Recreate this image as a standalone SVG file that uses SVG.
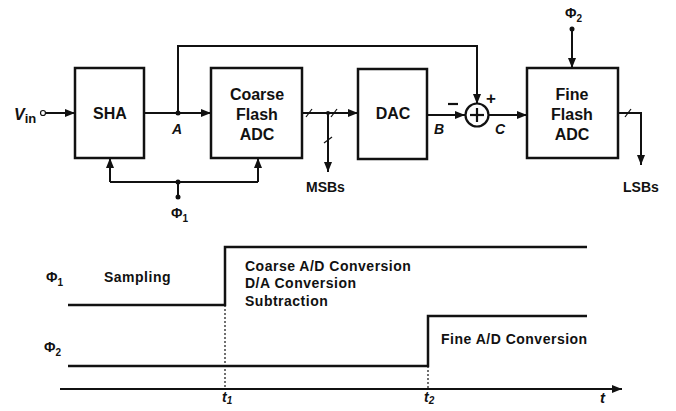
<svg xmlns="http://www.w3.org/2000/svg" width="676" height="411" viewBox="0 0 676 411">
<defs>
<marker id="ar" viewBox="0 0 10 8" refX="10" refY="4" markerWidth="10" markerHeight="8" markerUnits="userSpaceOnUse" orient="auto"><path d="M0,0 L10,4 L0,8 z" fill="#111"/></marker>
</defs>
<style>
.bx{fill:#fff;stroke:#111;stroke-width:2.5}
.ln{fill:none;stroke:#111;stroke-width:2}
.th{fill:none;stroke:#111;stroke-width:2.5}
.dsh{fill:none;stroke:#111;stroke-width:1.2;stroke-dasharray:2,2}
.t{font-family:"Liberation Sans",Arial,sans-serif;font-weight:bold;fill:#111}
.bt{font-size:16px;text-anchor:middle}
.st{font-size:14px;letter-spacing:0.5px}
.it{font-style:italic}
</style>
<rect width="676" height="411" fill="#fff"/>
<g id="connectors">
<circle cx="43" cy="113" r="2.5" fill="#fff" stroke="#111" stroke-width="1.2"/>
<line class="ln" x1="46" y1="113" x2="75" y2="113" marker-end="url(#ar)"/>
<line class="ln" x1="144" y1="113" x2="211" y2="113" marker-end="url(#ar)"/>
<circle cx="178" cy="113" r="2.5" fill="#111"/>
<polyline class="ln" points="178,113 178,46 477,46 477,104" marker-end="url(#ar)"/>
<polyline class="ln" points="110,182 258,182"/>
<line class="ln" x1="110" y1="182" x2="110" y2="158" marker-end="url(#ar)"/>
<line class="ln" x1="258" y1="182" x2="258" y2="158" marker-end="url(#ar)"/>
<circle cx="178" cy="182" r="2.5" fill="#111"/>
<line class="ln" x1="178" y1="182" x2="178" y2="197"/>
<circle cx="178" cy="197" r="2.5" fill="#111"/>
<line class="ln" x1="302" y1="113" x2="358" y2="113" marker-end="url(#ar)"/>
<line x1="306" y1="117" x2="312" y2="109" stroke="#111" stroke-width="1.2"/>
<line x1="331" y1="117" x2="337" y2="109" stroke="#111" stroke-width="1.2"/>
<circle cx="328" cy="113" r="2" fill="#111"/>
<line class="ln" x1="328" y1="113" x2="328" y2="172" marker-end="url(#ar)"/>
<line x1="324" y1="143" x2="332" y2="137" stroke="#111" stroke-width="1.2"/>
<line class="ln" x1="427" y1="115" x2="465" y2="115" marker-end="url(#ar)"/>
<circle cx="477" cy="115" r="11.5" fill="#fff" stroke="#111" stroke-width="2.2"/>
<line x1="470" y1="115" x2="484" y2="115" stroke="#111" stroke-width="2.2"/>
<line x1="477" y1="108" x2="477" y2="122" stroke="#111" stroke-width="2.2"/>
<line class="ln" x1="488.5" y1="115" x2="527" y2="115" marker-end="url(#ar)"/>
<circle cx="572" cy="29" r="2.5" fill="#111"/>
<line class="ln" x1="572" y1="29" x2="572" y2="68" marker-end="url(#ar)"/>
<polyline class="ln" points="618,113 641,113 641,165" marker-end="url(#ar)"/>
<line x1="625" y1="117" x2="631" y2="109" stroke="#111" stroke-width="1.2"/>
</g>
<g id="sha"><rect class="bx" x="75" y="68" width="69" height="90"/><text class="t bt" x="110" y="119">SHA</text></g>
<g id="coarse"><rect class="bx" x="211" y="68" width="91" height="90"/><text class="t bt" x="257" y="100">Coarse</text><text class="t bt" x="257" y="120">Flash</text><text class="t bt" x="257" y="140">ADC</text></g>
<g id="dac"><rect class="bx" x="358" y="69" width="69" height="90"/><text class="t bt" x="393" y="119">DAC</text></g>
<g id="fine"><rect class="bx" x="527" y="68" width="91" height="90"/><text class="t bt" x="572" y="100">Fine</text><text class="t bt" x="572" y="120">Flash</text><text class="t bt" x="572" y="140">ADC</text></g>
<g id="labels">
<text class="t it" x="14" y="120" font-size="16">V<tspan font-size="13" font-style="normal" dy="3">in</tspan></text>
<text class="t it" x="172" y="134" font-size="14">A</text>
<text class="t it" x="434" y="134" font-size="14">B</text>
<text class="t it" x="495" y="134" font-size="14">C</text>
<line x1="448" y1="104" x2="458" y2="104" stroke="#111" stroke-width="2.2"/>
<text class="t" x="486" y="104" font-size="17">+</text>
<text class="t" x="171" y="218" font-size="14">Φ<tspan font-size="10" dy="4">1</tspan></text>
<text class="t" x="565" y="18" font-size="14">Φ<tspan font-size="10" dy="4">2</tspan></text>
<text class="t" x="306" y="192" font-size="14">MSBs</text>
<text class="t" x="623" y="192" font-size="14">LSBs</text>
</g>
<g id="timing">
<polyline class="th" points="68,305 225,305 225,247 587,247"/>
<polyline class="th" points="68,366 428,366 428,316 587,316"/>
<line class="dsh" x1="225" y1="305" x2="225" y2="390"/>
<line class="dsh" x1="428" y1="366" x2="428" y2="390"/>
<line class="ln" x1="60" y1="389" x2="622" y2="389" marker-end="url(#ar)"/>
<text class="t" x="46" y="282" font-size="14">Φ<tspan font-size="10" dy="4">1</tspan></text>
<text class="t" x="44" y="352" font-size="14">Φ<tspan font-size="10" dy="4">2</tspan></text>
<text class="t st" x="104" y="282">Sampling</text>
<text class="t st" x="245" y="271">Coarse A/D Conversion</text>
<text class="t st" x="245" y="288">D/A Conversion</text>
<text class="t st" x="245" y="306">Subtraction</text>
<text class="t st" x="441" y="344">Fine A/D Conversion</text>
<text class="t it" x="222" y="402" font-size="14">t<tspan font-size="10" dy="2">1</tspan></text>
<text class="t it" x="424" y="402" font-size="14">t<tspan font-size="10" dy="2">2</tspan></text>
<text class="t it" x="600" y="403" font-size="15">t</text>
</g>
</svg>
